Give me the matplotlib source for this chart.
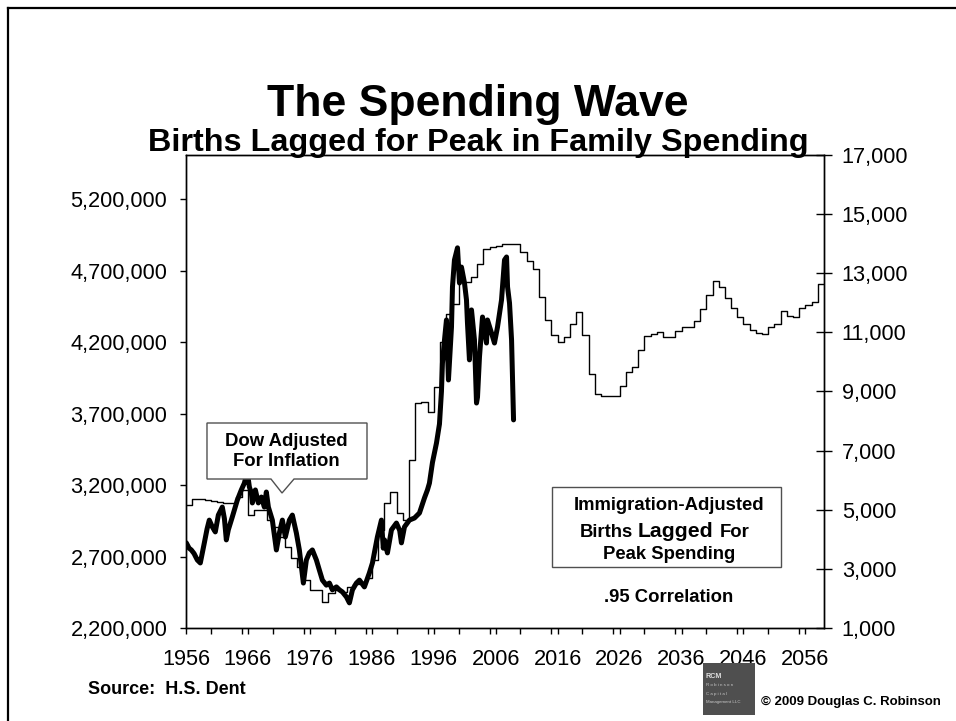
import numpy as np
import matplotlib
matplotlib.use("Agg")
import matplotlib.pyplot as plt
from matplotlib.patches import Polygon, Rectangle
from matplotlib.lines import Line2D
from matplotlib.ticker import MultipleLocator, FixedLocator, StrMethodFormatter

plt.rcParams['font.family'] = ['Liberation Sans', 'DejaVu Sans']

# immigration-adjusted births, lagged for peak spending (one value per year, 1956-2058)
birth_years = np.arange(1956, 2059)
births = [
    3062000, 3104000, 3100000, 3095000, 3090000, 3085000, 3076000, 3076000, 3118000, 3167000,  # 1956-65
    2992000, 3027000, 3027000, 2957000, 2908000, 2838000, 2768000, 2691000, 2628000, 2536000,  # 1966-75
    2466000, 2466000, 2382000, 2445000, 2466000, 2452000, 2487000, 2508000, 2522000, 2550000,  # 1976-85
    2677000, 2887000, 3076000, 3153000, 3006000, 2957000, 3378000, 3777000, 3784000, 3714000,  # 1986-95
    3889000, 4198000, 4394000, 4464000, 4618000, 4618000, 4654000, 4745000, 4850000, 4864000,  # 1996-05
    4871000, 4885000, 4885000, 4885000, 4829000, 4766000, 4710000, 4513000, 4352000, 4247000,  # 2006-15
    4198000, 4233000, 4324000, 4408000, 4247000, 3974000, 3840000, 3826000, 3826000, 3826000,  # 2016-25
    3896000, 3988000, 4023000, 4142000, 4240000, 4254000, 4268000, 4233000, 4233000, 4275000,  # 2026-35
    4303000, 4303000, 4345000, 4429000, 4527000, 4625000, 4583000, 4506000, 4436000, 4373000,  # 2036-45
    4324000, 4282000, 4261000, 4254000, 4303000, 4324000, 4415000, 4380000, 4373000, 4436000,  # 2046-55
    4457000, 4478000, 4604000,                                                                  # 2056-58
]

# Dow Jones adjusted for inflation
dow_years = [
    1956.05, 1956.50, 1956.86, 1957.30, 1957.83, 1958.31, 1958.96, 1959.40, 1959.76, 1960.25,
    1960.73, 1961.22, 1961.86, 1962.20, 1962.51, 1962.83, 1963.48, 1964.29, 1964.93, 1965.42,
    1965.90, 1966.23, 1966.55, 1966.71, 1967.20, 1967.68, 1968.17, 1968.65, 1968.97, 1969.30,
    1969.94, 1970.59, 1971.07, 1971.56, 1972.04, 1972.69, 1973.17, 1973.82, 1974.30, 1974.95,
    1975.43, 1975.91, 1976.40, 1977.05, 1977.53, 1978.02, 1978.66, 1979.15, 1979.63, 1980.28,
    1980.77, 1981.25, 1981.90, 1982.38, 1982.87, 1983.51, 1984.00, 1984.80, 1985.60, 1986.10,
    1986.90, 1987.55, 1987.85, 1988.04, 1988.52, 1989.17, 1989.97, 1990.50, 1990.78, 1991.27,
    1992.07, 1992.88, 1993.69, 1994.50, 1994.98, 1995.30, 1995.79, 1996.44, 1996.92, 1997.24,
    1997.40, 1997.73, 1998.05, 1998.37, 1998.86, 1999.02, 1999.34, 1999.83, 2000.15, 2000.47,
    2000.96, 2001.28, 2001.44, 2001.76, 2002.09, 2002.25, 2002.57, 2002.90, 2003.06, 2003.38,
    2003.87, 2004.51, 2004.67, 2005.32, 2005.80, 2006.29, 2006.94, 2007.42, 2007.75, 2007.91,
    2008.23, 2008.56, 2008.88,
]
dow_real = [
    3880, 3700, 3640, 3520, 3300, 3200, 3880, 4350, 4650, 4420,
    4250, 4820, 5090, 4700, 3980, 4320, 4760, 5330, 5670, 5900,
    6280, 5770, 5570, 5230, 5670, 5230, 5430, 5090, 5600, 5090,
    4650, 3640, 4210, 4650, 4080, 4650, 4820, 4210, 3640, 2520,
    3300, 3540, 3640, 3300, 2960, 2620, 2450, 2520, 2290, 2390,
    2290, 2220, 2050, 1850, 2290, 2520, 2620, 2390, 2860, 3200,
    4080, 4650, 3700, 3980, 3540, 4320, 4550, 4300, 3880, 4420,
    4650, 4720, 4890, 5400, 5670, 5900, 6600, 7260, 7900, 9000,
    9960, 10740, 11420, 9390, 11180, 12540, 13450, 13860, 12670, 13210,
    12670, 12100, 11320, 10070, 11760, 11420, 10740, 8610, 8810, 10170,
    11520, 10640, 11420, 10980, 10640, 11180, 12100, 13450, 13550, 12540,
    11990, 10740, 8040,
]

left_ticks = np.arange(2200000, 5200001, 500000)
right_ticks = np.arange(1000, 17001, 2000)
year_labels = np.arange(1956, 2057, 10)

W, H = 956, 721
fig = plt.figure(figsize=(W / 100, H / 100), dpi=100)
ax = fig.add_axes([186 / W, 1 - 628 / H, (824 - 186) / W, (628 - 155) / H])
ax2 = ax.twinx()

# births as yearly steps
ax.step(np.append(birth_years, birth_years[-1] + 1), np.append(births, births[-1]),
        where='post', color='black', lw=1.0)
ax.set_xlim(1956, 2059)
ax.set_ylim(2200000, 5510000)

# Dow as a heavy line on the right scale
ax2.plot(dow_years, dow_real, color='black', lw=3.6, solid_joinstyle='round',
         solid_capstyle='round')
ax2.set_ylim(1000, 17000)

for a in (ax, ax2):
    for s in a.spines.values():
        s.set_linewidth(1.0)

ax.yaxis.set_major_locator(FixedLocator(left_ticks))
ax.yaxis.set_major_formatter(StrMethodFormatter('{x:,.0f}'))
ax.xaxis.set_major_locator(FixedLocator(year_labels))
ax.xaxis.set_minor_locator(MultipleLocator(5))
ax.tick_params(axis='y', direction='out', length=4.5, width=1, labelsize=15.7, pad=9)
ax.tick_params(axis='x', which='major', direction='out', length=4, width=1,
               labelsize=15.7, pad=11)
ax.tick_params(axis='x', which='minor', direction='out', length=4, width=1)

ax2.yaxis.set_major_locator(FixedLocator(right_ticks))
ax2.yaxis.set_major_formatter(StrMethodFormatter('{x:,.0f}'))
ax2.tick_params(axis='y', direction='inout', length=11.5, width=1, labelsize=15.7, pad=7)

# callout for the Dow line
dow_box = Polygon([(0.0329, 0.4334), (0.2837, 0.4334), (0.2837, 0.315), (0.1693, 0.315),
                   (0.1505, 0.2854), (0.1332, 0.315), (0.0329, 0.315)],
                  closed=True, transform=ax.transAxes, facecolor='white',
                  edgecolor='#505050', lw=1.0, zorder=5)
ax2.add_patch(dow_box)
ax2.text(0.158, 0.3737, 'Dow Adjusted\nFor Inflation', transform=ax.transAxes,
         ha='center', va='center', fontsize=13.3, fontweight='bold',
         linespacing=1.25, zorder=6)

# label box for the births line
births_box = Rectangle((0.5737, 0.129), 0.3589, 0.169, transform=ax.transAxes,
                       facecolor='white', edgecolor='#505050', lw=1.0, zorder=5)
ax2.add_patch(births_box)
ax2.text(0.757, 0.26, 'Immigration-Adjusted', transform=ax.transAxes, ha='center',
         va='center', fontsize=13.3, fontweight='bold', zorder=6)
lagged = ax2.text(0.768, 0.1924, 'Lagged', transform=ax.transAxes, ha='center',
                  va='baseline', fontsize=15.3, fontweight='bold', zorder=6)
ax2.annotate('Births', xy=(0, 0.1924), xycoords=(lagged, ax.transAxes),
             xytext=(-4, 0), textcoords='offset points', ha='right', va='baseline',
             fontsize=13.3, fontweight='bold', zorder=6)
ax2.annotate('For', xy=(1, 0.1924), xycoords=(lagged, ax.transAxes),
             xytext=(4, 0), textcoords='offset points', ha='left', va='baseline',
             fontsize=13.3, fontweight='bold', zorder=6)
ax2.text(0.757, 0.1564, 'Peak Spending', transform=ax.transAxes, ha='center',
         va='center', fontsize=13.3, fontweight='bold', zorder=6)
ax2.text(0.757, 0.0655, '.95 Correlation', transform=ax.transAxes, ha='center',
         va='center', fontsize=13.3, fontweight='bold', zorder=6)

# titles
fig.text(0.5, 1 - 116 / H, 'The Spending Wave', ha='center', va='baseline',
         fontsize=32, fontweight='bold')
fig.text(0.5, 1 - 151 / H, 'Births Lagged for Peak in Family Spending', ha='center',
         va='baseline', fontsize=23.3, fontweight='bold')

fig.text(88 / W, 1 - 690 / H, 'Source:  H.S. Dent', ha='left', va='center',
         fontsize=13, fontweight='bold')
fig.text(761 / W, 1 - 702 / H, '\u00a9 2009 Douglas C. Robinson', ha='left', va='center',
         fontsize=9.5, fontweight='bold')

# small company logo
fig.add_artist(Rectangle((703 / W, 1 - 715 / H), 52 / W, 52 / H, transform=fig.transFigure,
                         facecolor='#4f4f4f', edgecolor='none', zorder=10))
fig.text(706 / W, 1 - 676 / H, 'RCM', fontsize=5.2, fontweight='bold', color='#e0e0e0',
         va='center', zorder=11)
for i, word in enumerate(['R o b i n s o n', 'C a p i t a l', 'Management LLC']):
    fig.text(706 / W, 1 - (685 + 8.5 * i) / H, word, fontsize=3.2, color='#c8c8c8',
             va='center', zorder=11)

# slide frame
fig.add_artist(Line2D([8 / W, 8 / W], [0, 1 - 8 / H], transform=fig.transFigure,
                      color='black', lw=1.6))
fig.add_artist(Line2D([8 / W, 1], [1 - 8 / H, 1 - 8 / H], transform=fig.transFigure,
                      color='black', lw=1.6))

fig.savefig('out.png', dpi=100)
